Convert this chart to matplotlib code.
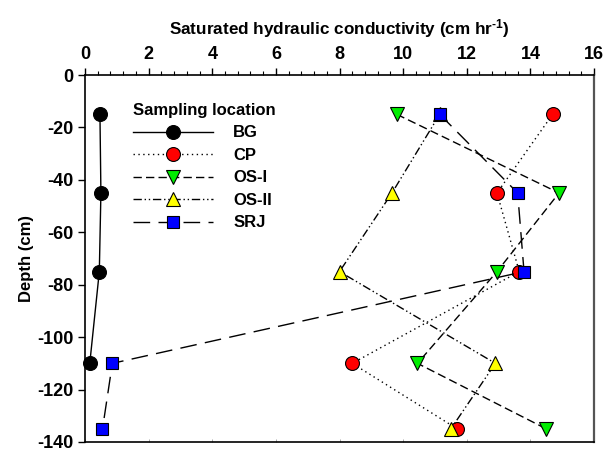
import matplotlib.pyplot as plt
import numpy as np

plt.rcParams["font.family"] = ["Liberation Sans", "DejaVu Sans"]
plt.rcParams["font.weight"] = "bold"
plt.rcParams["axes.unicode_minus"] = False
plt.rcParams["mathtext.fontset"] = "custom"
plt.rcParams["mathtext.default"] = "bf"
plt.rcParams["mathtext.bf"] = "Liberation Sans:bold"
plt.rcParams["mathtext.rm"] = "Liberation Sans:bold"

# depth of each sample (cm)
depth = [-15, -45, -75, -110, -135]

# saturated hydraulic conductivity (cm/hr) per sampling location
bg = [0.47, 0.5, 0.45, 0.15]
cp = [14.7, 12.95, 13.65, 8.4, 11.7]
os_1 = [9.8, 14.9, 12.95, 10.45, 14.5]
os_2 = [11.15, 9.65, 8.0, 12.9, 11.5]
srj = [11.15, 13.6, 13.8, 0.86, 0.55]

x_ticks = np.arange(0, 17, 2)
y_ticks = np.arange(0, -141, -20)


fig = plt.figure(figsize=(6.08, 4.5), dpi=100)
ax = fig.add_axes([0.1398, 0.0178, 0.977 - 0.1398, 0.8333 - 0.0178])

common = dict(color="black", lw=1.0, markeredgecolor="black",
              markeredgewidth=0.8, clip_on=False)

ax.plot(bg, depth[:len(bg)], linestyle="-", marker="o", markerfacecolor="black",
        markersize=10, label="BG", **common)
ax.plot(cp, depth, linestyle=(0, (1, 2.5)), marker="o", markerfacecolor="red",
        markersize=10, label="CP", **common)
ax.plot(os_1, depth, linestyle=(0, (6, 3)), marker="v", markerfacecolor="#00ee00",
        markersize=10, label="OS-I", **common)
ax.plot(os_2, depth, linestyle=(0, (6, 2, 1, 2, 1, 2)), marker="^",
        markerfacecolor="yellow", markersize=10, label="OS-II", **common)
ax.plot(srj, depth, linestyle=(0, (12, 6)), marker="s", markerfacecolor="blue",
        markersize=9, label="SRJ", **common)

ax.set_xlim(0, 16)
ax.set_ylim(-140, 0)

ax.xaxis.tick_top()
ax.xaxis.set_label_position("top")
ax.set_xticks(x_ticks)
ax.set_xticks(np.arange(0, 16.01, 0.4), minor=True)
ax.set_yticks(y_ticks)
ax.tick_params(axis="x", which="major", direction="out", length=5, width=1,
               labelsize=13, pad=4)
ax.tick_params(axis="x", which="minor", direction="out", length=3, width=0.8)
ax.tick_params(axis="y", direction="out", length=5, width=1, labelsize=13)

# small inward ticks along the bottom edge
bottom = ax.secondary_xaxis("bottom")
bottom.set_xticks(x_ticks)
bottom.tick_params(direction="in", length=2, width=0.5, labelbottom=False,
                   colors="#888888")
bottom.spines["bottom"].set_visible(False)

ax.spines["right"].set_color("#555555")
ax.spines["right"].set_linewidth(1.6)
for s in ("left", "top", "bottom"):
    ax.spines[s].set_linewidth(1.2)

ax.set_xlabel("Saturated hydraulic conductivity (cm hr$^{\\text{-}1}$)",
              fontsize=12.3, fontweight="bold", labelpad=8)
ax.set_ylabel("Depth (cm)", fontsize=12, fontweight="bold", labelpad=2)

leg = ax.legend(title="Sampling location", loc="upper left",
                bbox_to_anchor=(0.065, 0.965), frameon=False, fontsize=12,
                title_fontproperties={"weight": "bold", "size": 12},
                handlelength=4.8, handletextpad=1.2, labelspacing=0.45)
leg._legend_box.align = "left"
for t in leg.get_texts():
    t.set_fontweight("bold")

plt.savefig("out.png", dpi=100)
